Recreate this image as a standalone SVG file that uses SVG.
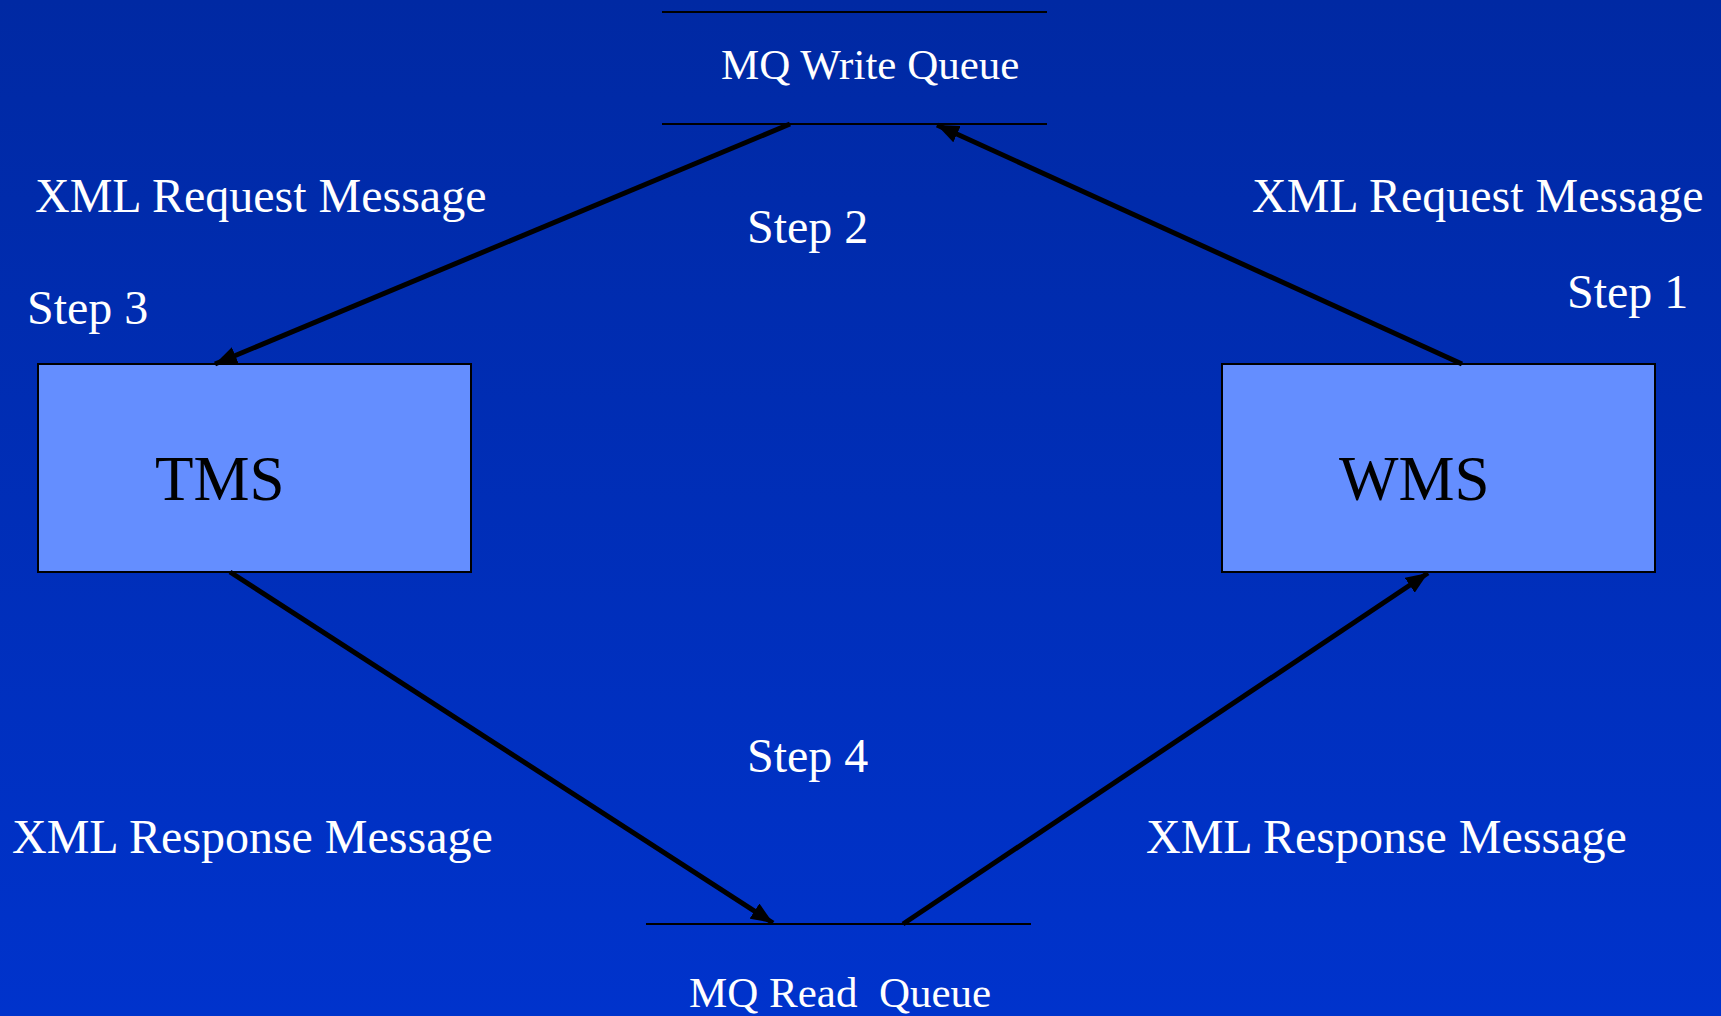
<svg xmlns="http://www.w3.org/2000/svg" width="1721" height="1016" viewBox="0 0 1721 1016">
<defs>
<linearGradient id="bg" x1="0" y1="0" x2="0" y2="1">
<stop offset="0" stop-color="#0029A3"/>
<stop offset="1" stop-color="#0033CC"/>
</linearGradient>
<marker id="ah" markerUnits="userSpaceOnUse" markerWidth="24" markerHeight="18" refX="22" refY="9" orient="auto">
<path d="M0,0 L22,9 L0,18 Z" fill="#000"/>
</marker>
<style>
.lbl{font-family:"Liberation Serif","Times New Roman",serif;fill:#fff;font-size:48px;}
.q{font-family:"Liberation Serif","Times New Roman",serif;fill:#fff;font-size:43px;white-space:pre;}
.box{fill:#648EFF;stroke:#000;stroke-width:2;}
.big{font-family:"Liberation Serif","Times New Roman",serif;fill:#000;font-size:63px;}
.qline{stroke:#000;stroke-width:2;}
.conn{stroke:#000;stroke-width:5;fill:none;}
</style>
</defs>
<rect x="0" y="0" width="1721" height="1016" fill="url(#bg)"/>
<g id="mq-write">
<line class="qline" x1="662" y1="12" x2="1047" y2="12"/>
<line class="qline" x1="662" y1="124" x2="1047" y2="124"/>
<text class="q" x="721" y="79">MQ Write Queue</text>
</g>
<g id="mq-read">
<line class="qline" x1="646" y1="924" x2="1031" y2="924"/>
<text class="q" x="689" y="1007" xml:space="preserve">MQ Read  Queue</text>
</g>
<g id="tms">
<rect class="box" x="38" y="364" width="433" height="208"/>
<text class="big" x="155" y="500">TMS</text>
</g>
<g id="wms">
<rect class="box" x="1222" y="364" width="433" height="208"/>
<text class="big" x="1339" y="500">WMS</text>
</g>
<g id="connectors">
<line class="conn" x1="1462" y1="364" x2="937" y2="125" marker-end="url(#ah)"/>
<line class="conn" x1="790" y1="124" x2="215" y2="364" marker-end="url(#ah)"/>
<line class="conn" x1="230" y1="572" x2="773" y2="923" marker-end="url(#ah)"/>
<line class="conn" x1="903" y1="924" x2="1428" y2="573" marker-end="url(#ah)"/>
</g>
<g id="labels">
<text class="lbl" x="35" y="212">XML Request Message</text>
<text class="lbl" x="1252" y="212">XML Request Message</text>
<text class="lbl" x="27" y="324">Step 3</text>
<text class="lbl" x="1567" y="308">Step 1</text>
<text class="lbl" x="747" y="243">Step 2</text>
<text class="lbl" x="747" y="772">Step 4</text>
<text class="lbl" x="12" y="853">XML Response Message</text>
<text class="lbl" x="1146" y="853">XML Response Message</text>
</g>
</svg>
